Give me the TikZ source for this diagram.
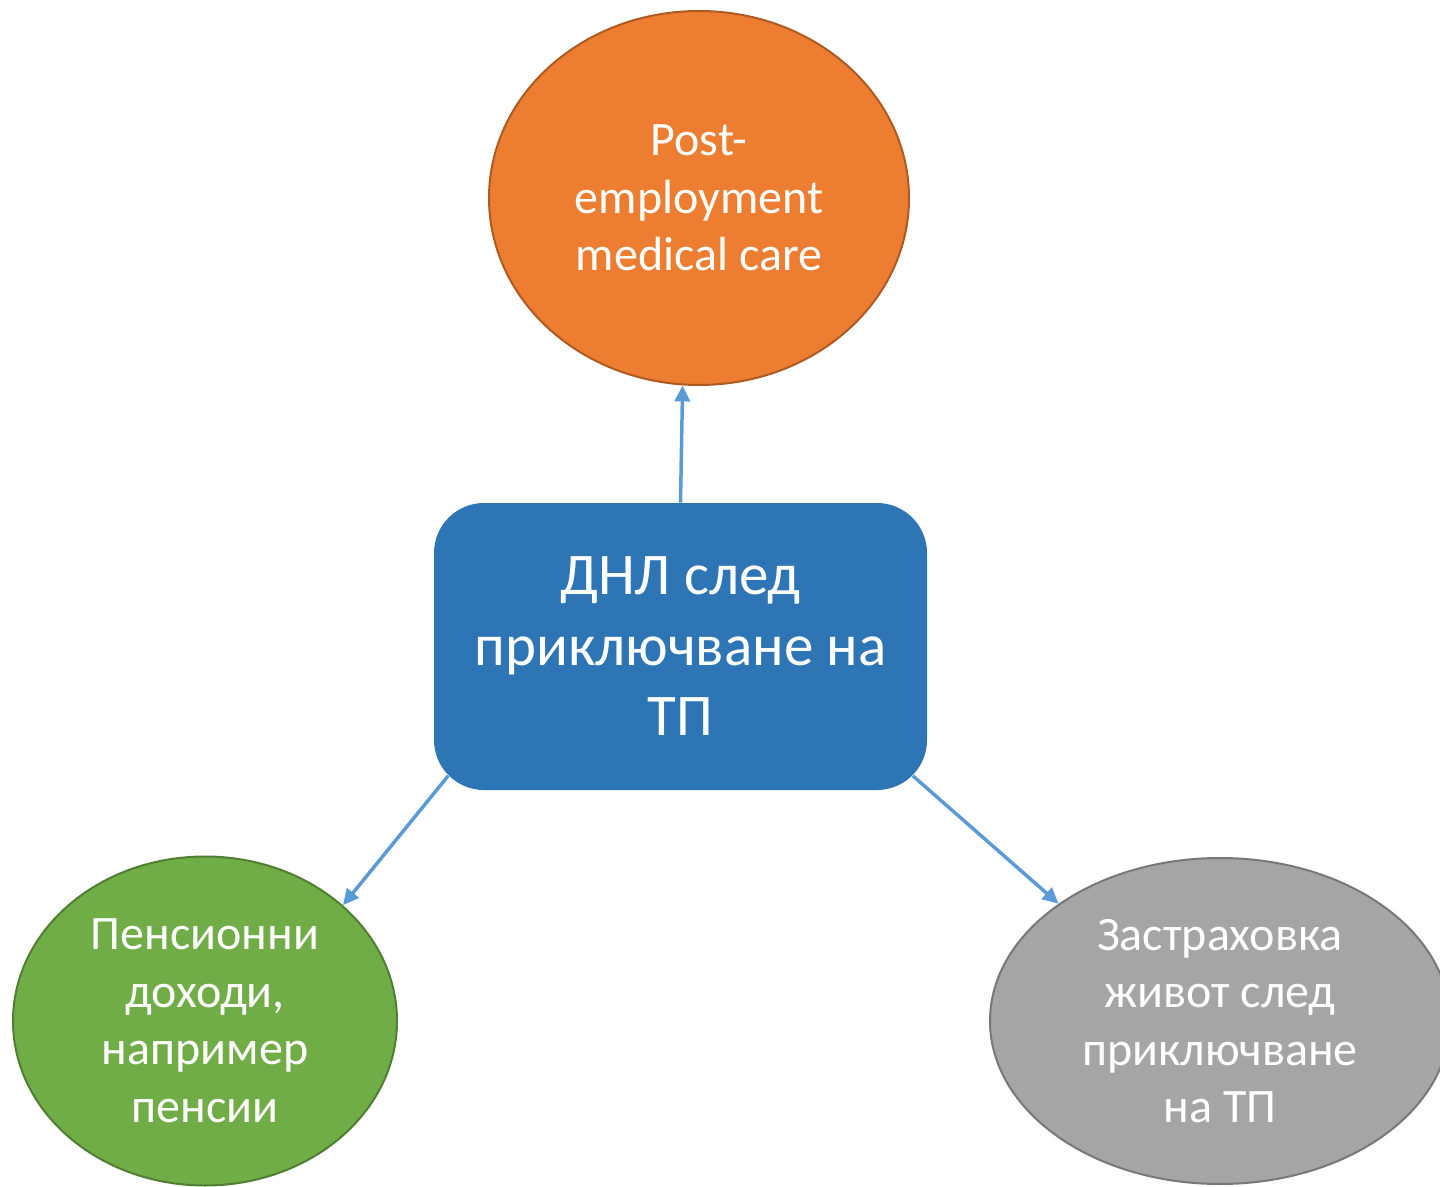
\documentclass[tikz,border=0pt]{standalone}
\usepackage{fontspec}
\setmainfont{Carlito}
\usetikzlibrary{shapes.geometric, arrows.meta, calc}

\definecolor{hubblue}{HTML}{2E75B6}
\definecolor{linkblue}{HTML}{5B9BD5}
\definecolor{careorange}{HTML}{ED7D31}
\definecolor{careline}{HTML}{AE5A21}
\definecolor{pensiongreen}{HTML}{70AD47}
\definecolor{pensionline}{HTML}{507E32}
\definecolor{lifegray}{HTML}{A5A5A5}
\definecolor{lifeline}{HTML}{787878}

\begin{document}
\begin{tikzpicture}[x=0.5pt, y=-0.5pt,
    bubble/.style={ellipse, draw, line width=1pt, inner sep=0pt, text=white,
        align=center, font=\fontsize{24pt}{28.75pt}\selectfont},
    hub/.style={rectangle, rounded corners=25pt, fill=hubblue, text=white,
        align=center, minimum width=246.5pt, minimum height=143.5pt,
        font=\fontsize{29.5pt}{35.25pt}\selectfont},
    link/.style={draw=linkblue, line width=1.75pt, -{Triangle[length=8pt, width=7.5pt]}}]
        \useasboundingbox (0,0) rectangle (1440,1187);

        \node[hub] (dnl) at (680.5,646.5) {ДНЛ след\\приключване на\\ТП};
        \node[bubble, fill=careorange, draw=careline, minimum width=210pt, minimum height=187pt]
            (care) at (699,198) {Post-\\employment\\medical care};
        \node[bubble, fill=pensiongreen, draw=pensionline, minimum width=192pt, minimum height=164.5pt]
            (pension) at (205,1021) {Пенсионни\\доходи,\\например\\пенсии};
        \node[bubble, fill=lifegray, draw=lifeline, minimum width=230pt, minimum height=163pt]
            (life) at (1220,1021) {Застраховка\\живот след\\приключване\\на ТП};

        \draw[link] (dnl.north) -- (care.265);
        \draw[link] ($(dnl.south west)+(14.6,-14.6)$) -- (pension.40);
        \draw[link] ($(dnl.south east)+(-14.6,-14.6)$) -- (life.144);
\end{tikzpicture}
\end{document}
